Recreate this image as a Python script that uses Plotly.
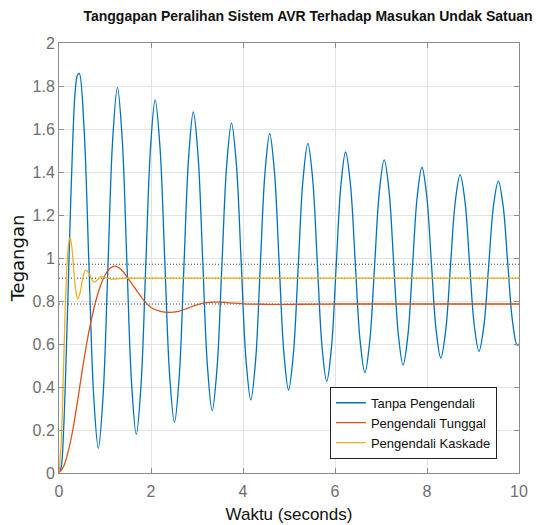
import plotly.graph_objects as go

# Step response: no controller (blue), single controller (orange), cascade (yellow)
t_tanpa = [0.0, 0.05, 0.10, 0.15, 0.20, 0.25, 0.30, 0.35, 0.40, 0.44,
           0.544, 0.648, 0.751, 0.855, 0.959, 1.063, 1.166, 1.27,
           1.373, 1.475, 1.578, 1.68, 1.783, 1.885, 1.988, 2.09,
           2.195, 2.30, 2.405, 2.51, 2.613, 2.715, 2.818, 2.92,
           3.023, 3.125, 3.228, 3.33, 3.435, 3.54, 3.645, 3.75,
           3.855, 3.96, 4.065, 4.17, 4.273, 4.375, 4.478, 4.58,
           4.683, 4.785, 4.888, 4.99, 5.095, 5.20, 5.305, 5.41,
           5.513, 5.615, 5.718, 5.82, 5.923, 6.025, 6.128, 6.23,
           6.335, 6.44, 6.545, 6.65, 6.755, 6.86, 6.965, 7.07,
           7.173, 7.275, 7.378, 7.48, 7.583, 7.685, 7.788, 7.89,
           7.993, 8.095, 8.198, 8.30, 8.405, 8.51, 8.615, 8.72,
           8.823, 8.925, 9.028, 9.13, 9.235, 9.34, 9.445, 9.55,
           9.653, 9.755, 9.858, 9.96, 10.0]
y_tanpa = [0.0, 0.03, 0.20, 0.50, 0.86, 1.23, 1.55, 1.77, 1.85, 1.859,
           1.604, 0.987, 0.370, 0.115, 0.361, 0.955, 1.548, 1.794,
           1.558, 0.987, 0.416, 0.180, 0.408, 0.958, 1.507, 1.735,
           1.516, 0.986, 0.455, 0.236, 0.447, 0.958, 1.468, 1.679,
           1.476, 0.985, 0.493, 0.290, 0.486, 0.959, 1.431, 1.627,
           1.439, 0.984, 0.528, 0.340, 0.521, 0.959, 1.397, 1.578,
           1.403, 0.982, 0.561, 0.386, 0.554, 0.960, 1.365, 1.533,
           1.371, 0.980, 0.588, 0.426, 0.582, 0.960, 1.337, 1.493,
           1.343, 0.980, 0.617, 0.467, 0.612, 0.962, 1.311, 1.456,
           1.316, 0.979, 0.642, 0.502, 0.637, 0.962, 1.287, 1.422,
           1.292, 0.979, 0.665, 0.535, 0.660, 0.962, 1.263, 1.388,
           1.268, 0.977, 0.686, 0.566, 0.682, 0.962, 1.242, 1.358,
           1.246, 0.977, 0.707, 0.595, 0.600]

t_tunggal = [0.0, 0.1, 0.2, 0.3, 0.4, 0.5, 0.6, 0.7, 0.8, 0.9, 1.0, 1.1,
             1.2, 1.3, 1.4, 1.5, 1.6, 1.7, 1.8, 1.9, 2.0, 2.2, 2.4, 2.6,
             2.8, 3.0, 3.2, 3.4, 3.6, 3.8, 4.0, 4.4, 4.8, 5.2, 6.0, 7.0,
             8.0, 9.0, 10.0]
y_tunggal = [0.0, 0.03, 0.10, 0.20, 0.33, 0.47, 0.60, 0.71, 0.80, 0.87,
             0.92, 0.95, 0.962, 0.955, 0.935, 0.905, 0.875, 0.845, 0.815,
             0.790, 0.770, 0.752, 0.747, 0.752, 0.767, 0.782, 0.792,
             0.795, 0.794, 0.790, 0.787, 0.785, 0.784, 0.785, 0.786,
             0.786, 0.786, 0.786, 0.786]

t_kaskade = [0.0, 0.05, 0.10, 0.15, 0.20, 0.24, 0.28, 0.33, 0.37, 0.41,
             0.46, 0.52, 0.58, 0.65, 0.70, 0.76, 0.82, 0.88, 0.94, 1.0,
             1.1, 1.2, 1.35, 1.6, 3.0, 5.0, 7.0, 10.0]
y_kaskade = [0.0, 0.15, 0.50, 0.85, 1.05, 1.096, 1.05, 0.92, 0.84, 0.809,
             0.84, 0.91, 0.944, 0.93, 0.905, 0.888, 0.895, 0.908, 0.913,
             0.910, 0.903, 0.902, 0.905, 0.906, 0.906, 0.906, 0.906, 0.906]

# Steady-state reference levels (dotted)
steady_levels = [0.971, 0.906, 0.786]
x_range = [0, 10]

names = ["Tanpa Pengendali", "Pengendali Tunggal", "Pengendali Kaskade"]
colors = ["#0072BD", "#D95319", "#EDB120"]

FONT = "Liberation Sans Narrow, Arial Narrow, Arial, sans-serif"

fig = go.Figure()

for lvl in steady_levels:
    fig.add_trace(go.Scatter(x=x_range, y=[lvl, lvl], mode="lines",
                             line=dict(color="#404040", width=1, dash="1px,2px"),
                             showlegend=False, hoverinfo="skip"))

for tx, ty, nm, c in zip([t_tanpa, t_tunggal, t_kaskade],
                         [y_tanpa, y_tunggal, y_kaskade], names, colors):
    fig.add_trace(go.Scatter(x=tx, y=ty, mode="lines", name=nm,
                             line=dict(color=c, width=1.3, shape="spline",
                                       smoothing=1.0)))

axis_common = dict(showline=True, mirror="ticks", linecolor="#8c8c8c",
                   linewidth=1, ticks="inside", ticklen=5, tickcolor="#8c8c8c",
                   showgrid=True, gridcolor="#e3e3e3", gridwidth=1,
                   zeroline=False, automargin=False,
                   tickfont=dict(family=FONT, size=16, color="#6e6e6e"))

fig.update_xaxes(range=[0, 10], tickvals=[0, 2, 4, 6, 8, 10],
                 ticklabelstandoff=4,
                 title=dict(text="Waktu (seconds)", standoff=8,
                            font=dict(family=FONT, size=17, color="#111111")),
                 **axis_common)
fig.update_yaxes(range=[0, 2], dtick=0.2,
                 title=dict(text="Tegangan", standoff=3,
                            font=dict(family="DejaVu Sans, sans-serif", size=18,
                                      color="#111111")),
                 **axis_common)

fig.update_layout(
    width=557, height=525,
    margin=dict(l=59, r=38, t=43, b=52),
    paper_bgcolor="white", plot_bgcolor="white",
    title=dict(text="<b>Tanggapan Peralihan Sistem AVR Terhadap Masukan Undak Satuan</b>",
               x=0.553, xanchor="center", y=0.978, yanchor="top",
               font=dict(family=FONT, size=14, color="#111111")),
    legend=dict(x=0.952, xanchor="right", y=0.033, yanchor="bottom",
                bgcolor="white", bordercolor="#222222", borderwidth=1,
                font=dict(family=FONT, size=13, color="#111111"),
                tracegroupgap=0, itemwidth=30),
    showlegend=True,
)

fig.write_html("out.html")
